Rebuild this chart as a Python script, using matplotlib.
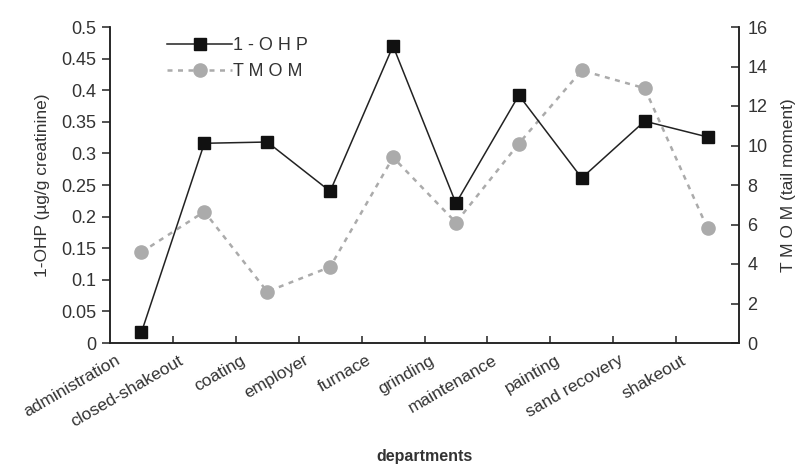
import numpy as np
import matplotlib
matplotlib.use("Agg")
import matplotlib.pyplot as plt
from matplotlib.lines import Line2D
from matplotlib.transforms import ScaledTranslation

plt.rcParams["font.family"] = ["Liberation Sans", "DejaVu Sans"]

# ─── Data ───
departments = ["administration", "closed-shakeout", "coating", "employer", "furnace",
               "grinding", "maintenance", "painting", "sand recovery", "shakeout"]
ohp = [0.017, 0.316, 0.318, 0.240, 0.470, 0.221, 0.392, 0.261, 0.351, 0.326]
tmom = [4.6, 6.65, 2.6, 3.85, 9.4, 6.1, 10.1, 13.8, 12.9, 5.8]

left_ticks = [0, 0.05, 0.1, 0.15, 0.2, 0.25, 0.3, 0.35, 0.4, 0.45, 0.5]
left_labels = ["0", "0.05", "0.1", "0.15", "0.2", "0.25", "0.3", "0.35", "0.4", "0.45", "0.5"]
right_ticks = [0, 2, 4, 6, 8, 10, 12, 14, 16]

ink = "#222222"
txt = "#333333"
grey = "#ababab"

fig = plt.figure(figsize=(8.1, 4.67), dpi=100)
ax = fig.add_axes([110 / 810, 1 - 343 / 467, 629 / 810, 316 / 467])
ax2 = ax.twinx()
ax.set_zorder(ax2.get_zorder() + 1)
ax.patch.set_visible(False)

x = np.arange(len(departments))

# ─── Series ───
ax2.plot(x, tmom, color=grey, lw=1.8, linestyle=(0, (2, 2.2)), marker="o",
         markersize=9.5, markerfacecolor=grey, markeredgecolor=grey)
ax.plot(x, ohp, color=ink, lw=1.1, marker="s", markersize=8.5,
        markerfacecolor="#111111", markeredgecolor="#111111")

# ─── Axes ───
ax.set_xlim(-0.5, len(departments) - 0.5)
ax.set_ylim(0, 0.5)
ax2.set_ylim(0, 16)

ax.set_yticks(left_ticks)
ax.set_yticklabels(left_labels)
ax2.set_yticks(right_ticks)

ax.set_xticks(x)
ax.set_xticklabels(departments, rotation=30, ha="right")
ax.set_xticks(np.arange(len(departments) - 1) + 0.5, minor=True)
ax.tick_params(axis="x", which="major", length=0, pad=7, labelsize=12.5, labelcolor=txt)
ax.tick_params(axis="x", which="minor", direction="in", length=5, width=1.1, color=ink)
ax.tick_params(axis="y", direction="out", length=6, width=1.1, color=ink,
               labelsize=13, labelcolor=txt, pad=4)
ax2.tick_params(axis="y", direction="in", length=6, width=1.1, color=ink,
                labelsize=13, labelcolor=txt, pad=6)
for lab in ax.get_xticklabels():
    lab.set_transform(lab.get_transform() + ScaledTranslation(-0.19, 0, fig.dpi_scale_trans))

for a in (ax, ax2):
    a.spines["top"].set_visible(False)
    for s in ("left", "right", "bottom"):
        a.spines[s].set_color(ink)
        a.spines[s].set_linewidth(1.1)

ax.set_ylabel("1-OHP (µg/g creatinine)", fontsize=12.5, color=txt, labelpad=8)
ax2.set_ylabel("T M O M (tail moment)", fontsize=12.5, color=txt, rotation=90, labelpad=10)
ax.set_xlabel("departments", fontsize=11.5, fontweight="bold", color=txt, labelpad=10)
ax.xaxis.set_label_coords(0.5, -0.335)

# ─── Legend ───
handles = [
    Line2D([], [], color=ink, lw=1.1, marker="s", markersize=8.5,
           markerfacecolor="#111111", markeredgecolor="#111111"),
    Line2D([], [], color=grey, lw=1.8, linestyle=(0, (2, 2.2)), marker="o",
           markersize=9.5, markerfacecolor=grey, markeredgecolor=grey),
]
ax.legend(handles, ["1 - O H P", "T M O M"], loc="upper left",
          bbox_to_anchor=(0.065, 1.02), frameon=False, fontsize=13,
          handlelength=3.6, handletextpad=0.05, labelspacing=0.5,
          labelcolor=txt)

fig.savefig("out.png", dpi=100)
